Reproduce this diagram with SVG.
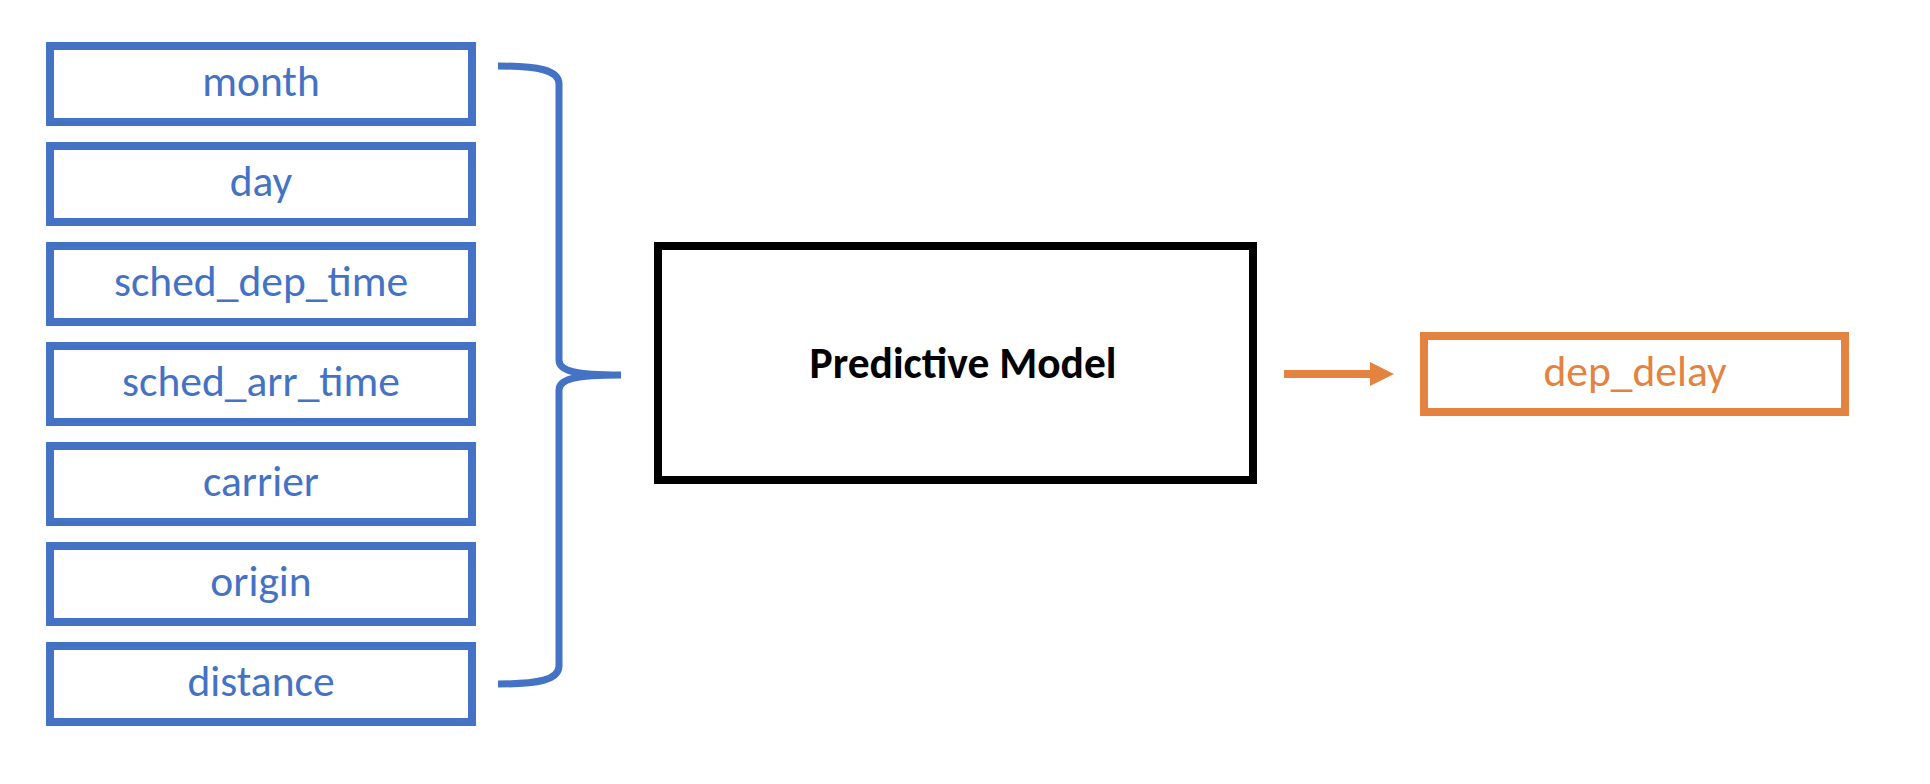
<svg xmlns="http://www.w3.org/2000/svg" width="1930" height="784" viewBox="0 0 1930 784">
<style>
.in rect{fill:#fff;stroke:#4472C4;stroke-width:8}
.in text{fill:#4472C4;font-family:Carlito,Lato,"Liberation Sans",sans-serif;font-size:43.5px;text-anchor:middle}
.brace{fill:none;stroke:#4472C4;stroke-width:7}
</style>
<defs>
<marker id="ah" markerUnits="userSpaceOnUse" markerWidth="26" markerHeight="26" refX="0" refY="12" orient="auto" viewBox="0 0 26 24">
<path d="M0,0 L24,12 L0,24 Z" fill="#E3833F"/>
</marker>
</defs>
<rect width="1930" height="784" fill="#fff"/>
<g id="month" class="in"><rect x="50" y="46" width="422" height="76"/><text x="261" y="96">month</text></g>
<g id="day" class="in"><rect x="50" y="146" width="422" height="76"/><text x="261" y="196">day</text></g>
<g id="sched_dep_time" class="in"><rect x="50" y="246" width="422" height="76"/><text x="261" y="296">sched_dep_time</text></g>
<g id="sched_arr_time" class="in"><rect x="50" y="346" width="422" height="76"/><text x="261" y="396">sched_arr_time</text></g>
<g id="carrier" class="in"><rect x="50" y="446" width="422" height="76"/><text x="261" y="496">carrier</text></g>
<g id="origin" class="in"><rect x="50" y="546" width="422" height="76"/><text x="261" y="596">origin</text></g>
<g id="distance" class="in"><rect x="50" y="646" width="422" height="76"/><text x="261" y="696">distance</text></g>
<g id="model"><rect x="658" y="246" width="595" height="234" fill="#fff" stroke="#000" stroke-width="8"/><text x="963" y="378" font-family="Carlito,Lato,'Liberation Sans',sans-serif" font-weight="bold" font-size="43.5" text-anchor="middle" fill="#000">Predictive Model</text></g>
<g id="dep_delay"><rect x="1424" y="336" width="421" height="76" fill="#fff" stroke="#E3833F" stroke-width="8"/><text x="1635" y="386" font-family="Carlito,Lato,'Liberation Sans',sans-serif" font-size="43.5" text-anchor="middle" fill="#E3833F">dep_delay</text></g>
<g id="connectors">
<path class="brace" d="M498,66 C538,66 559,70 559,84 L559,360 C559,371 575,375 621,375 C575,375 559,379 559,390 L559,666 C559,680 538,684 498,684"/>
<line x1="1284" y1="374" x2="1370" y2="374" stroke="#E3833F" stroke-width="8" marker-end="url(#ah)"/>
</g>
</svg>
